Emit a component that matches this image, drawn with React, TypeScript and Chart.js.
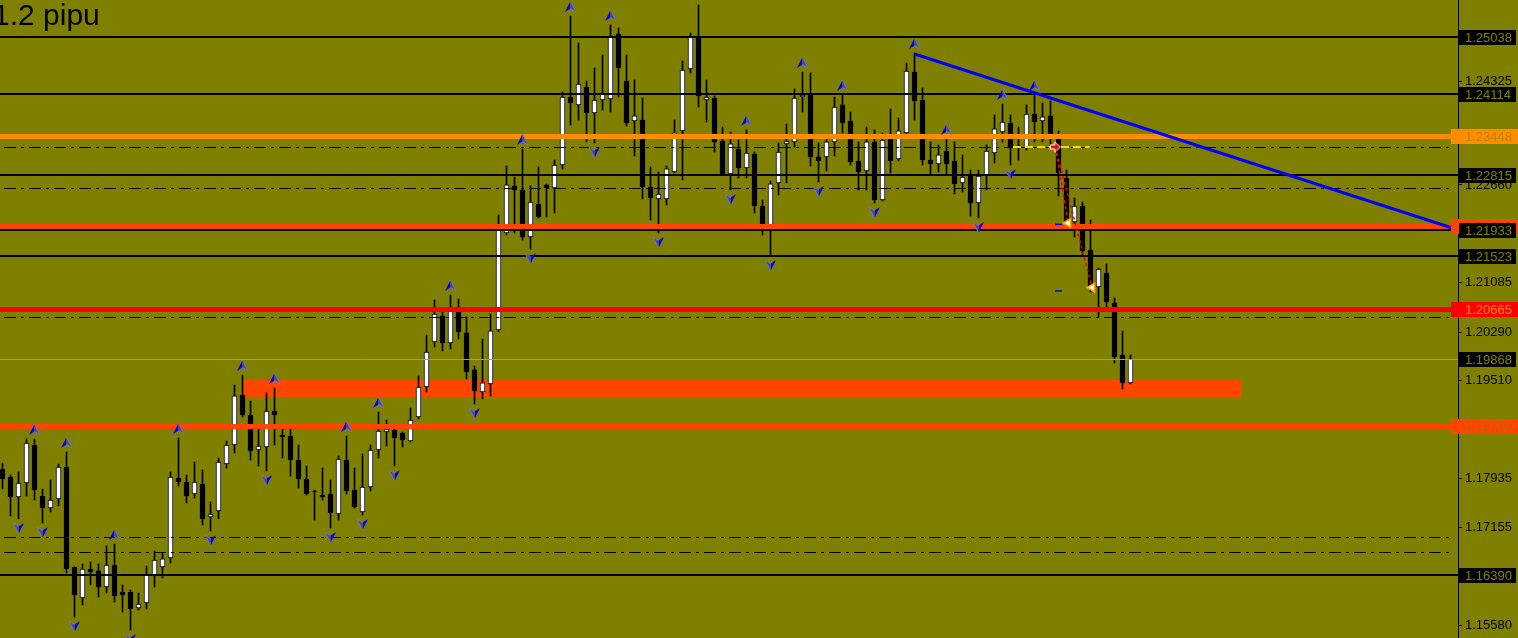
import React, { useEffect, useRef } from 'react';
import { Chart, registerables } from 'chart.js';
Chart.register(...registerables);

const opens = [1.18094,1.17965,1.17644,1.17869,1.18480,1.17660,1.17467,1.17612,1.18126,1.16519,1.16021,1.16487,1.16455,1.16197,1.16551,1.16117,1.16117,1.15859,1.15940,1.16374,1.16519,1.16664,1.17949,1.17885,1.17692,1.17853,1.17323,1.17419,1.18174,1.18480,1.19284,1.18962,1.18399,1.18447,1.19026,1.18640,1.18624,1.18238,1.17933,1.17740,1.17676,1.17692,1.17371,1.18238,1.17756,1.17403,1.17804,1.18399,1.18689,1.18721,1.18673,1.18544,1.18930,1.19412,1.20136,1.20554,1.20120,1.20634,1.20281,1.19686,1.19332,1.19461,1.20329,1.21888,1.22644,1.22579,1.21823,1.22354,1.22660,1.22611,1.22981,1.24074,1.23946,1.24234,1.23817,1.24026,1.24042,1.25086,1.24331,1.23688,1.23704,1.22627,1.22435,1.22435,1.22869,1.23528,1.24524,1.25038,1.24026,1.24058,1.23367,1.22836,1.23238,1.22933,1.23158,1.22322,1.22016,1.22692,1.23319,1.23351,1.24074,1.24122,1.23110,1.23110,1.23351,1.23946,1.23688,1.23045,1.22885,1.23351,1.22418,1.23399,1.23078,1.23496,1.24476,1.24026,1.23061,1.22997,1.23206,1.23045,1.22692,1.22804,1.22370,1.22812,1.23174,1.23512,1.23656,1.23287,1.23254,1.23801,1.23688,1.23769,1.23399,1.22772,1.22064,1.22322,1.21614,1.21019,1.21245,1.20763,1.19927,1.19477];
const highs = [1.18190,1.17997,1.18046,1.18576,1.18576,1.17772,1.17917,1.18174,1.18367,1.16519,1.16567,1.16599,1.16567,1.16857,1.16889,1.16230,1.16149,1.16101,1.16535,1.16776,1.16744,1.18046,1.18592,1.17997,1.18206,1.18078,1.17564,1.18271,1.18544,1.19445,1.19605,1.19187,1.18737,1.19316,1.19396,1.18737,1.18737,1.18480,1.18142,1.17756,1.18110,1.17917,1.18303,1.18624,1.18110,1.18335,1.18480,1.19010,1.18881,1.18753,1.18689,1.19074,1.19589,1.20248,1.20811,1.20618,1.20891,1.20827,1.20538,1.19750,1.20184,1.20586,1.22177,1.22965,1.22788,1.23238,1.22644,1.22949,1.22676,1.23061,1.24154,1.25376,1.24942,1.24331,1.24540,1.24749,1.25231,1.25183,1.24749,1.24347,1.24058,1.22949,1.22869,1.22965,1.23704,1.24652,1.25103,1.25553,1.24347,1.24090,1.23592,1.23512,1.23383,1.23544,1.23190,1.22418,1.22724,1.23335,1.23640,1.24202,1.24476,1.24460,1.23335,1.23431,1.24074,1.24106,1.23833,1.23351,1.23592,1.23544,1.23496,1.23881,1.23737,1.24620,1.24781,1.24218,1.23351,1.23303,1.23399,1.23351,1.23142,1.22901,1.22901,1.23303,1.23785,1.23962,1.23785,1.23592,1.23946,1.24106,1.23978,1.24010,1.23528,1.22901,1.22451,1.22386,1.22096,1.21325,1.21389,1.20843,1.20313,1.19927];
const lows = [1.17772,1.17339,1.17291,1.17660,1.17596,1.17226,1.17403,1.17500,1.16423,1.15715,1.15908,1.16230,1.16037,1.16101,1.15956,1.15795,1.15506,1.15827,1.15843,1.16197,1.16342,1.16583,1.17821,1.17548,1.17628,1.17194,1.17098,1.17291,1.18110,1.18351,1.18930,1.18238,1.18142,1.18062,1.18480,1.18271,1.17981,1.17788,1.17676,1.17274,1.17596,1.17146,1.17274,1.17692,1.17467,1.17355,1.17740,1.18271,1.18464,1.18142,1.18447,1.18528,1.18898,1.19332,1.20055,1.19991,1.20023,1.20184,1.19541,1.19139,1.19220,1.19268,1.20297,1.21855,1.21888,1.21775,1.21630,1.22129,1.22145,1.22209,1.22917,1.23624,1.23704,1.23351,1.23335,1.23865,1.23833,1.24074,1.23608,1.23126,1.22435,1.22096,1.21888,1.22338,1.22853,1.22740,1.24460,1.23913,1.23672,1.23190,1.22820,1.22579,1.22772,1.22772,1.22209,1.21855,1.21518,1.22499,1.22692,1.23270,1.23833,1.22965,1.22708,1.22885,1.23126,1.23496,1.22981,1.22579,1.22579,1.22370,1.22402,1.22853,1.23045,1.23464,1.23704,1.22981,1.22812,1.22869,1.22812,1.22515,1.22547,1.22161,1.22129,1.22579,1.23013,1.23351,1.22981,1.23061,1.23222,1.23351,1.23351,1.23270,1.22483,1.22000,1.21823,1.21534,1.20939,1.20538,1.20698,1.19798,1.19380,1.19461];
const closes = [1.17933,1.17644,1.17869,1.18512,1.17756,1.17467,1.17596,1.18126,1.16487,1.16069,1.16487,1.16439,1.16197,1.16551,1.16053,1.16069,1.15843,1.15924,1.16390,1.16631,1.16648,1.17965,1.17885,1.17660,1.17885,1.17291,1.17371,1.18206,1.18480,1.19268,1.18962,1.18383,1.18464,1.19026,1.18962,1.18608,1.18238,1.17933,1.17692,1.17724,1.17644,1.17387,1.18255,1.17740,1.17483,1.17804,1.18399,1.18705,1.18737,1.18592,1.18560,1.18881,1.19412,1.19975,1.20586,1.20120,1.20650,1.20297,1.19654,1.19348,1.19477,1.20313,1.21984,1.22660,1.22579,1.21823,1.22386,1.22145,1.22611,1.22981,1.24074,1.23978,1.24283,1.23817,1.24026,1.24122,1.25054,1.24540,1.23656,1.23769,1.22627,1.22451,1.22515,1.22917,1.23496,1.24508,1.25038,1.24090,1.24074,1.23351,1.22836,1.23319,1.22933,1.23174,1.22322,1.22016,1.22676,1.23190,1.23367,1.24058,1.24106,1.23110,1.23045,1.23351,1.23913,1.23656,1.23029,1.22869,1.23351,1.22418,1.23383,1.23045,1.23528,1.24492,1.24010,1.23061,1.22997,1.23142,1.22997,1.22676,1.22788,1.22370,1.22804,1.23206,1.23560,1.23672,1.23254,1.23270,1.23801,1.23672,1.23753,1.23479,1.22853,1.22064,1.22322,1.21598,1.21019,1.21309,1.20779,1.19895,1.19477,1.19863];

const upFractals = [4, 8, 14, 22, 30, 34, 43, 47, 56, 65, 71, 76, 93, 100, 105, 114, 118, 125, 129];
const downFractals = [2, 5, 9, 16, 26, 33, 41, 45, 49, 59, 66, 74, 82, 91, 96, 102, 109, 122, 126];

const solidLevels = [1.25038, 1.24114, 1.22815, 1.21933, 1.21523, 1.16390];
const dashDotLevels = [1.23270, 1.22611, 1.20538, 1.17001, 1.16760];
const colorLevels = [1.23448, 1.21993, 1.20665, 1.18779];
const colorLevelColors = ['#ff8c00', '#ff4500', '#ff0000', '#ff4500'];
const colorLevelText = ['#c08600', '#c04000', '#ff8c00', '#c06000'];
const greyLevels = [1.19868];
const blackBoxLevels = [1.25038, 1.24114, 1.22815, 1.21933, 1.21523, 1.19868, 1.16390];
const axisTicks = [1.24325, 1.2266, 1.2187, 1.21085, 1.2029, 1.1951, 1.1872, 1.17935, 1.17155, 1.1558];

const zoneX = [30.06, 154.8];
const zoneY = [1.19252, 1.19525];
const trendX = [114, 182];
const trendY = [1.24765, 1.21936];
const yellowX = [126.3, 135.9];
const yellowY = [1.2327, 1.2327];
const entryX = [131.6];
const entryY = [1.2327];
const exitX = [133.2, 136.2];
const exitY = [1.22048, 1.21011];
const markX = [131.56, 132.44];
const markY = [1.22027, 1.20956];

const xMin = -0.3125;
const xMax = 181.9375;
const priceMin = 1.153772;
const priceMax = 1.256328;
const title = '1.2 pipu';

function makeArrow(dir: 'up' | 'down') {
  const c = document.createElement('canvas');
  c.width = 13; c.height = 40;
  const g = c.getContext('2d')!;
  g.lineWidth = 1;
  if (dir === 'up') {
    g.fillStyle = '#0000ff';
    g.beginPath(); g.moveTo(6.5, 5); g.lineTo(1, 16); g.lineTo(6.5, 12.5); g.closePath(); g.fill();
    g.fillStyle = '#4848b0';
    g.beginPath(); g.moveTo(6.5, 5); g.lineTo(12, 16); g.lineTo(6.5, 12.5); g.closePath(); g.fill();
    g.strokeStyle = '#7878a8';
    g.beginPath(); g.moveTo(6.5, 5); g.lineTo(12, 16); g.lineTo(6.5, 12.5); g.stroke();
  } else {
    g.fillStyle = '#0000ff';
    g.beginPath(); g.moveTo(6.5, 35); g.lineTo(12, 24); g.lineTo(6.5, 27.5); g.closePath(); g.fill();
    g.fillStyle = '#4848b0';
    g.beginPath(); g.moveTo(6.5, 35); g.lineTo(1, 24); g.lineTo(6.5, 27.5); g.closePath(); g.fill();
    g.strokeStyle = '#7878a8';
    g.beginPath(); g.moveTo(6.5, 35); g.lineTo(1, 24); g.lineTo(6.5, 27.5); g.stroke();
  }
  return c;
}

function makeEntry() {
  const c = document.createElement('canvas');
  c.width = 13; c.height = 13;
  const g = c.getContext('2d')!;
  g.beginPath();
  g.moveTo(1.5, 4.5); g.lineTo(6, 4.5); g.lineTo(6, 1.5); g.lineTo(11.5, 6.5);
  g.lineTo(6, 11.5); g.lineTo(6, 8.5); g.lineTo(1.5, 8.5); g.closePath();
  g.fillStyle = '#ff0000'; g.fill();
  g.strokeStyle = '#ffffff'; g.lineWidth = 1; g.stroke();
  return c;
}

const overlay = {
  id: 'overlay',
  beforeDatasetsDraw(chart: any) {
    const { ctx, scales: { x, y } } = chart;
    ctx.save();
    ctx.fillStyle = '#ff4500';
    const x0 = x.getPixelForValue(zoneX[0]);
    const x1 = x.getPixelForValue(zoneX[1]);
    const y0 = y.getPixelForValue(zoneY[1]);
    const y1 = y.getPixelForValue(zoneY[0]);
    ctx.fillRect(x0, y0, x1 - x0, y1 - y0);
    ctx.restore();
  },
  afterDatasetDraw(chart: any, args: any) {
    if (args.index !== 1) return;
    const { ctx, chartArea, scales: { y } } = chart;
    const L = chartArea.left, R = chartArea.right;
    ctx.save();
    ctx.beginPath(); ctx.rect(L, chartArea.top, R - L, chartArea.bottom - chartArea.top); ctx.clip();
    ctx.strokeStyle = '#9a9a9a'; ctx.lineWidth = 1;
    greyLevels.forEach(v => {
      const py = Math.round(y.getPixelForValue(v)) + 0.5;
      ctx.beginPath(); ctx.moveTo(L, py); ctx.lineTo(R, py); ctx.stroke();
    });
    ctx.strokeStyle = '#000'; ctx.lineWidth = 1; ctx.setLineDash([12, 5, 3, 5]);
    dashDotLevels.forEach(v => {
      const py = Math.round(y.getPixelForValue(v)) + 0.5;
      ctx.beginPath(); ctx.moveTo(L + 4, py); ctx.lineTo(R - 8, py); ctx.stroke();
    });
    ctx.setLineDash([]);
    ctx.lineWidth = 2;
    solidLevels.forEach(v => {
      const py = Math.round(y.getPixelForValue(v));
      ctx.beginPath(); ctx.moveTo(L, py); ctx.lineTo(R, py); ctx.stroke();
    });
    ctx.lineWidth = 5;
    colorLevels.forEach((v, i) => {
      const py = Math.round(y.getPixelForValue(v)) + 0.5;
      ctx.strokeStyle = colorLevelColors[i];
      ctx.beginPath(); ctx.moveTo(L, py); ctx.lineTo(R, py); ctx.stroke();
    });
    ctx.restore();
  },
  afterDraw(chart: any) {
    const { ctx, chartArea, scales: { y } } = chart;
    const R = chartArea.right;
    ctx.save();
    ctx.font = '13px "Liberation Sans", Arial, sans-serif';
    ctx.textBaseline = 'middle';
    ctx.textAlign = 'left';
    colorLevels.forEach((v, i) => {
      const py = Math.round(y.getPixelForValue(v));
      ctx.fillStyle = colorLevelColors[i];
      ctx.fillRect(R - 7, py - 7, 1518 - (R - 7), 15);
      ctx.fillStyle = colorLevelText[i];
      ctx.fillText(v.toFixed(5), R + 7, py + 1);
    });
    blackBoxLevels.forEach(v => {
      const py = Math.round(y.getPixelForValue(v));
      ctx.fillStyle = '#000';
      ctx.fillRect(R + 1, py - 7, 57, 15);
      ctx.fillStyle = '#808000';
      ctx.fillText(v.toFixed(5), R + 7, py + 1);
    });
    ctx.fillStyle = '#000';
    ctx.font = '30px "Liberation Sans", Arial, sans-serif';
    ctx.textBaseline = 'alphabetic';
    ctx.fillText(title, -7, 25);
    ctx.restore();
  },
};

export default function App() {
  const ref = useRef<HTMLCanvasElement | null>(null);
  useEffect(() => {
    const cv = ref.current;
    if (!cv) return;
    const upImg = makeArrow('up');
    const downImg = makeArrow('down');
    const entryImg = makeEntry();
    const idx = opens.map((_, i) => i);
    const chart = new Chart(cv, {
      type: 'bar',
      data: {
        datasets: [
          {
            type: 'bar',
            data: idx.map(i => ({ x: i, y: [lows[i], highs[i]] })),
            backgroundColor: '#000',
            borderWidth: 0,
            barThickness: 1,
            grouped: false,
            order: 3,
          } as any,
          {
            type: 'bar',
            data: idx.map(i => ({ x: i, y: [opens[i], closes[i]] })),
            backgroundColor: idx.map(i => (closes[i] >= opens[i] ? '#ffffff' : '#000000')),
            borderColor: '#000',
            borderWidth: 1,
            borderSkipped: false,
            barThickness: 5,
            grouped: false,
            order: 2,
          } as any,
          {
            type: 'line',
            data: upFractals.map(i => ({ x: i, y: highs[i] })),
            showLine: false,
            pointStyle: upImg,
            order: 1,
          } as any,
          {
            type: 'line',
            data: downFractals.map(i => ({ x: i, y: lows[i] })),
            showLine: false,
            pointStyle: downImg,
            order: 1,
          } as any,
          {
            type: 'line',
            data: trendX.map((v, i) => ({ x: v, y: trendY[i] })),
            borderColor: '#0000ff',
            borderWidth: 3,
            pointRadius: 0,
            order: 0,
          } as any,
          {
            type: 'line',
            data: yellowX.map((v, i) => ({ x: v, y: yellowY[i] })),
            borderColor: '#ffd700',
            borderWidth: 2,
            borderDash: [8, 4],
            pointRadius: 0,
            order: 0,
          } as any,
          {
            type: 'line',
            data: [{ x: entryX[0], y: entryY[0] }, { x: exitX[0], y: exitY[0] }],
            borderColor: '#ff0000',
            borderWidth: 1.5,
            borderDash: [3, 3],
            pointRadius: 0,
            order: 0,
          } as any,
          {
            type: 'line',
            data: [{ x: entryX[0], y: entryY[0] }, { x: exitX[1], y: exitY[1] }],
            borderColor: '#ff0000',
            borderWidth: 1.5,
            borderDash: [3, 3],
            pointRadius: 0,
            order: 0,
          } as any,
          {
            type: 'line',
            data: [{ x: markX[0], y: markY[0] }, { x: markX[1], y: markY[0] }],
            borderColor: '#0000ff',
            borderWidth: 1.5,
            pointRadius: 0,
            order: 0,
          } as any,
          {
            type: 'line',
            data: [{ x: markX[0], y: markY[1] }, { x: markX[1], y: markY[1] }],
            borderColor: '#0000ff',
            borderWidth: 1.5,
            pointRadius: 0,
            order: 0,
          } as any,
          {
            type: 'line',
            data: exitX.map((v, i) => ({ x: v, y: exitY[i] })),
            showLine: false,
            pointStyle: 'triangle',
            rotation: -90,
            pointRadius: 5,
            pointBackgroundColor: '#ffffff',
            pointBorderColor: '#ffa500',
            pointBorderWidth: 1.5,
            order: -1,
          } as any,
          {
            type: 'line',
            data: entryX.map((v, i) => ({ x: v, y: entryY[i] })),
            showLine: false,
            pointStyle: entryImg,
            order: -1,
          } as any,
        ],
      },
      options: {
        animation: false,
        responsive: false,
        devicePixelRatio: 1,
        events: [],
        layout: { padding: 0, autoPadding: false },
        plugins: { legend: { display: false }, tooltip: { enabled: false }, title: { display: false } },
        scales: {
          x: { type: 'linear', min: xMin, max: xMax, display: false, offset: false },
          y: {
            type: 'linear',
            position: 'right',
            min: priceMin,
            max: priceMax,
            afterFit: (s: any) => { s.width = 60; s.paddingTop = 0; s.paddingBottom = 0; },
            afterBuildTicks: (s: any) => { s.ticks = axisTicks.map(v => ({ value: v })); },
            ticks: {
              callback: (v: any) => Number(v).toFixed(5),
              font: { family: '"Liberation Sans", Arial, sans-serif', size: 13 },
              color: '#000',
              padding: 3,
              autoSkip: false,
            },
            grid: { drawOnChartArea: false, drawTicks: true, tickLength: 4, color: '#000', lineWidth: 1 },
            border: { display: true, color: '#000', width: 1 },
          },
        },
      } as any,
      plugins: [overlay],
    });
    return () => chart.destroy();
  }, []);
  return (
    <div style={{ position: 'fixed', left: 0, top: 0, width: 1518, height: 638, background: '#808000', overflow: 'hidden' }}>
      <canvas ref={ref} width={1518} height={638} style={{ display: 'block' }} />
    </div>
  );
}
